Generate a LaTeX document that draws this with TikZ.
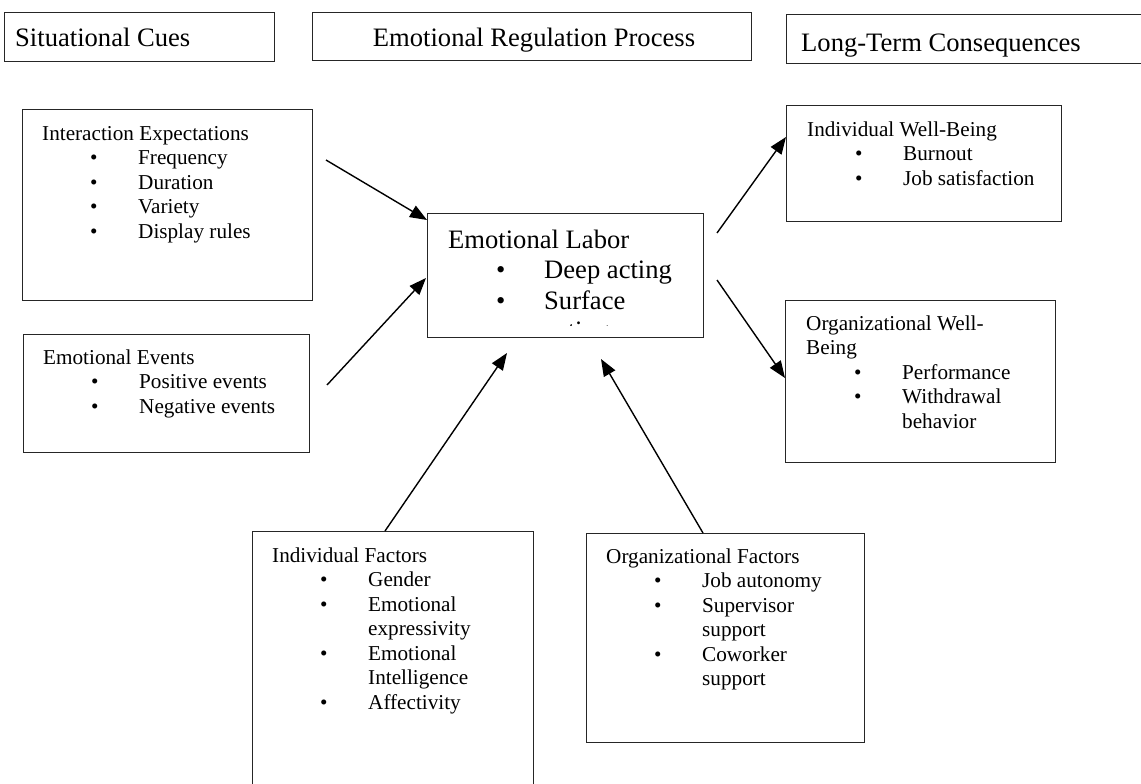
\documentclass[tikz,border=0pt]{standalone}
\usepackage{fontspec}
\setmainfont{Liberation Serif}
\usetikzlibrary{arrows.meta}
\newcommand\itm[1]{\hspace*{48pt}\makebox[48pt][l]{•}#1}
\newcommand\cnt[1]{\hspace*{96pt}#1}
\tikzset{
  frame/.style={draw=black!85, line width=0.9pt, rectangle, inner sep=0pt, anchor=north west},
  txt/.style={anchor=base west, inner sep=0pt, font=\fontsize{21.2}{24.5}\selectfont},
  bigtxt/.style={anchor=base west, inner sep=0pt, font=\fontsize{26.6}{30.6}\selectfont},
  conn/.style={line width=1.4pt, -{Triangle[length=17pt,width=13pt]}},
}
\begin{document}
\begin{tikzpicture}[x=1pt,y=-1pt]
\useasboundingbox[fill=white] (0,0) rectangle (1141,784);
% headers
\node[frame, minimum width=270pt, minimum height=49pt] (h1) at (4,12) {};
\node[bigtxt] (h1t) at (15,47) {Situational Cues};
\node[frame, minimum width=439pt, minimum height=48pt] (h2) at (312,12) {};
\node[bigtxt, anchor=base] (h2t) at (534,47) {Emotional Regulation Process};
\node[frame, minimum width=380pt, minimum height=49pt] (h3) at (786,14) {};
\node[bigtxt] (h3t) at (801,52) {Long-Term Consequences};
% boxes
\node[frame, minimum width=290pt, minimum height=191pt] (ie) at (22,109) {};
\node[txt] (iet) at (42,140) {\begin{tabular}[t]{@{}l@{}}Interaction Expectations\\
\itm{Frequency}\\ \itm{Duration}\\ \itm{Variety}\\ \itm{Display rules}\end{tabular}};
\node[frame, minimum width=286pt, minimum height=118pt] (ee) at (23,334) {};
\node[txt] (eet) at (43,364) {\begin{tabular}[t]{@{}l@{}}Emotional Events\\
\itm{Positive events}\\ \itm{Negative events}\end{tabular}};
\node[frame, minimum width=276pt, minimum height=124pt] (el) at (427,213) {};
\begin{scope}
\clip (427,213) rectangle (703,325.5);
\node[bigtxt] (elt) at (448,248) {\begin{tabular}[t]{@{}l@{}}Emotional Labor\\
\itm{Deep acting}\\ \itm{Surface}\\ \cnt{acting}\end{tabular}};
\end{scope}
\node[frame, minimum width=275pt, minimum height=116pt] (iw) at (786,105) {};
\node[txt] (iwt) at (807,136) {\begin{tabular}[t]{@{}l@{}}Individual Well-Being\\
\itm{Burnout}\\ \itm{Job satisfaction}\end{tabular}};
\node[frame, minimum width=270pt, minimum height=162pt] (ow) at (785,300) {};
\node[txt] (owt) at (806,330) {\begin{tabular}[t]{@{}l@{}}Organizational Well-\\ Being\\
\itm{Performance}\\ \itm{Withdrawal}\\ \cnt{behavior}\end{tabular}};
\node[frame, minimum width=281pt, minimum height=280pt] (if) at (252,531) {};
\node[txt] (ift) at (272,562) {\begin{tabular}[t]{@{}l@{}}Individual Factors\\
\itm{Gender}\\ \itm{Emotional}\\ \cnt{expressivity}\\ \itm{Emotional}\\ \cnt{Intelligence}\\ \itm{Affectivity}\end{tabular}};
\node[frame, minimum width=278pt, minimum height=209pt] (of) at (586,533) {};
\node[txt] (oft) at (606,563) {\begin{tabular}[t]{@{}l@{}}Organizational Factors\\
\itm{Job autonomy}\\ \itm{Supervisor}\\ \cnt{support}\\ \itm{Coworker}\\ \cnt{support}\end{tabular}};
% connectors
\coordinate (a1s) at (326,160); \coordinate (a1e) at (427,220);
\coordinate (a2s) at (327,385); \coordinate (a2e) at (426,278);
\coordinate (a3s) at (385,531); \coordinate (a3e) at (507,353);
\coordinate (a4s) at (703,533); \coordinate (a4e) at (601,359);
\coordinate (a5s) at (717,233); \coordinate (a5e) at (786,137);
\coordinate (a6s) at (717,280); \coordinate (a6e) at (785,378);
\draw[conn] (a1s) -- (a1e);
\draw[conn] (a2s) -- (a2e);
\draw[conn] (a3s) -- (a3e);
\draw[conn] (a4s) -- (a4e);
\draw[conn] (a5s) -- (a5e);
\draw[conn] (a6s) -- (a6e);
\end{tikzpicture}
\end{document}
